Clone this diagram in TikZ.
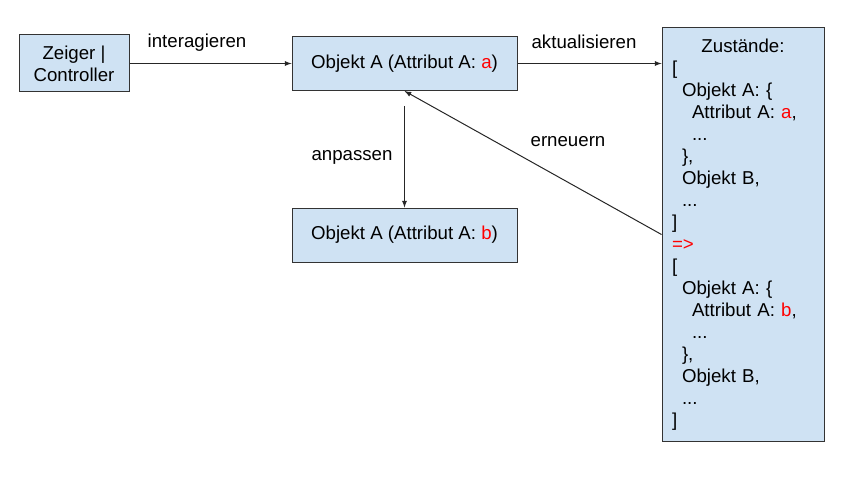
\documentclass[tikz,border=0pt]{standalone}
\usepackage{fontspec}
\setmainfont{Liberation Sans}
\usetikzlibrary{arrows}
\definecolor{kasten}{HTML}{CFE2F3}
\definecolor{rahmen}{HTML}{333333}
\newcommand{\wert}[1]{\textcolor{red}{#1}}
\tikzset{box/.style={draw=rahmen, fill=kasten, line width=0.75pt, inner sep=0pt, align=center}}
\tikzset{pfeil/.style={draw=black!85, line width=0.75pt, -latex}}
\tikzset{lbl/.style={inner sep=0pt}}

\begin{document}
\begin{tikzpicture}[x=0.75pt,y=-0.75pt, font=\fontsize{14}{16.5}\selectfont]
    \useasboundingbox (0,0) rectangle (857,478);
    \node[box, minimum width=82.5pt, minimum height=42.75pt] (zeiger) at (74,63.5) {Zeiger |\\Controller};
    \node[box, minimum width=168.75pt, minimum height=40.5pt] (objA) at (404.5,63.5) {Objekt A (Attribut A: \wert{a})};
    \node[box, minimum width=168.75pt, minimum height=40.5pt] (objB) at (404.5,235) {Objekt A (Attribut A: \wert{b})};
    \node[box, minimum width=121.5pt, minimum height=309.75pt, text width=106.5pt, align=left] (zust) at (743,234.5) {%
      \makebox[\hsize]{Zustände:}\\
      {[}\\
      \hspace*{7.5pt}Objekt A: \{\\
      \hspace*{15pt}Attribut A: \wert{a},\\
      \hspace*{15pt}...\\
      \hspace*{7.5pt}\},\\
      \hspace*{7.5pt}Objekt B,\\
      \hspace*{7.5pt}...\\
      ]\\
      \wert{=>}\\
      {[}\\
      \hspace*{7.5pt}Objekt A: \{\\
      \hspace*{15pt}Attribut A: \wert{b},\\
      \hspace*{15pt}...\\
      \hspace*{7.5pt}\},\\
      \hspace*{7.5pt}Objekt B,\\
      \hspace*{7.5pt}...\\
      ]};
    % labels
    \node[lbl] (interagieren) at (197,43) {interagieren};
    \node[lbl] (aktualisieren) at (584,42) {aktualisieren};
    \node[lbl] (anpassen) at (352,157) {anpassen};
    \node[lbl] (erneuern) at (568,142) {erneuern};
    % connectors
    \draw[pfeil] (zeiger.east) -- (zeiger.east -| objA.west);
    \draw[pfeil] (objA.east) -- (objA.east -| zust.west);
    \draw[pfeil, shorten <=11.25pt] (objA.south) -- (objB.north);
    \draw[pfeil] (zust.west) -- (objA.south);
\end{tikzpicture}
\end{document}
